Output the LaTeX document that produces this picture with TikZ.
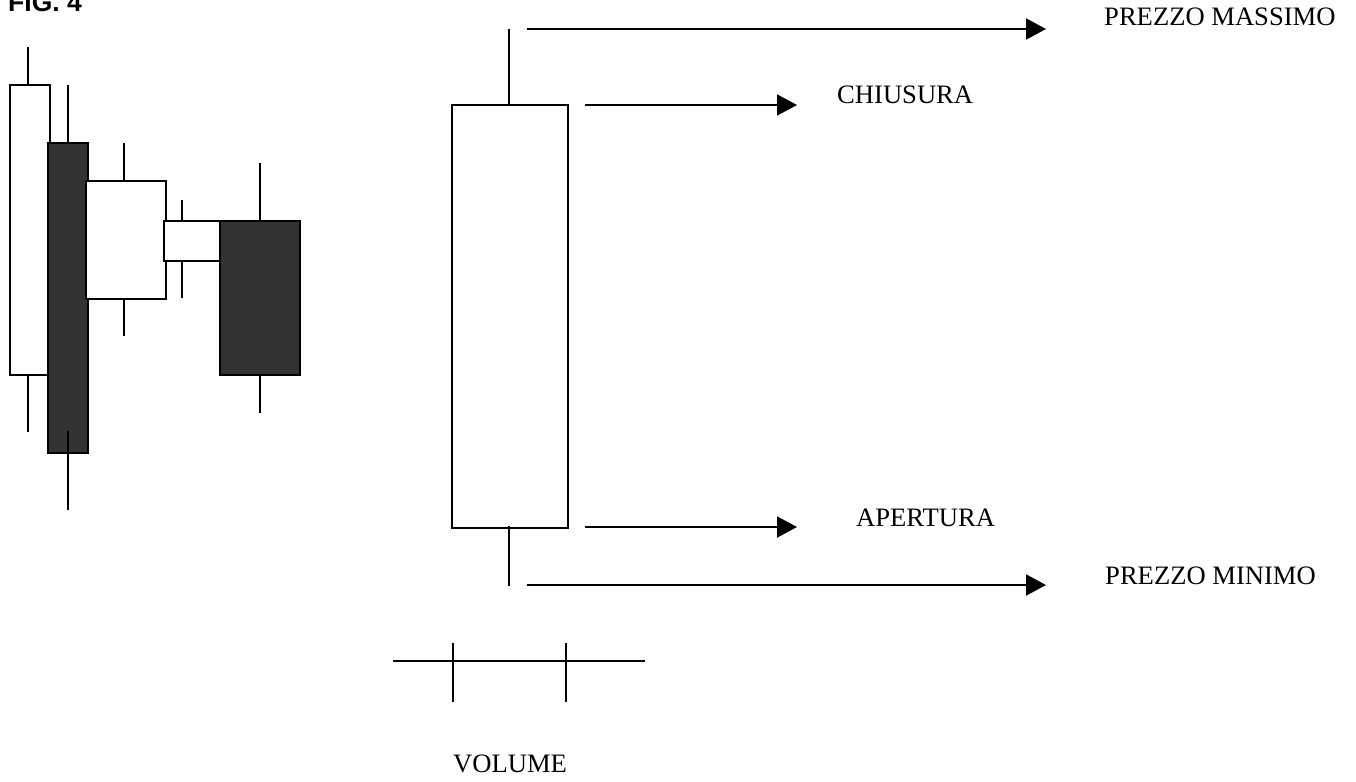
\documentclass[tikz,border=0pt]{standalone}
\usepackage{fontspec}
\setmainfont{Liberation Serif}
\newfontfamily\figfont{Liberation Sans}
\usetikzlibrary{arrows.meta}
\definecolor{darkbody}{RGB}{51,51,51}
\tikzset{
  ln/.style={line width=2pt, line cap=butt},
  upbody/.style={ln, fill=white},
  downbody/.style={ln, fill=darkbody},
  pointer/.style={ln, -{Triangle[length=20pt,width=21pt]}},
  lbl/.style={anchor=base west, inner sep=0pt, font=\fontsize{26.6}{30}\selectfont},
}
\begin{document}
\begin{tikzpicture}[x=1pt,y=-1pt]
\useasboundingbox (0,0) rectangle (1356,781);

% title
\node[anchor=base west, inner sep=0pt, font=\figfont\bfseries\fontsize{26.5}{30}\selectfont] (title) at (8,12) {FIG. 4};

% small candlestick series
% 1: white
\draw[ln] (28,47) -- (28,85);
\draw[ln] (28,375) -- (28,432);
\draw[upbody] (10,85) rectangle (50,375);
% 2: dark
\draw[ln] (68,85) -- (68,143);
\draw[downbody] (48,143) rectangle (88,453);
\draw[ln] (68,431) -- (68,510);
% 3: white
\draw[ln] (124,143) -- (124,181);
\draw[ln] (124,297) -- (124,336);
\draw[upbody] (86,181) rectangle (166,299);
% 4: white, small
\draw[ln] (182,200) -- (182,221);
\draw[ln] (182,259) -- (182,298);
\draw[upbody] (164,221) rectangle (220,261);
% 5: dark
\draw[ln] (260,163) -- (260,221);
\draw[ln] (260,375) -- (260,413);
\draw[downbody] (220,221) rectangle (300,375);

% large explained candlestick
\draw[ln] (509,29) -- (509,105);
\draw[ln] (509,526) -- (509,586);
\draw[ln] (452,105) rectangle (568,528);

% pointers
\coordinate (hiA) at (527,29);   \coordinate (hiB) at (1046,29);
\coordinate (clA) at (585,105);  \coordinate (clB) at (797,105);
\coordinate (opA) at (585,527);  \coordinate (opB) at (797,527);
\coordinate (loA) at (527,585);  \coordinate (loB) at (1046,585);
\draw[pointer] (hiA) -- (hiB);
\draw[pointer] (clA) -- (clB);
\draw[pointer] (opA) -- (opB);
\draw[pointer] (loA) -- (loB);

% labels
\node[lbl] (hi) at (1104,26)  {PREZZO MASSIMO};
\node[lbl] (cl) at (837,103)  {CHIUSURA};
\node[lbl] (op) at (856,526)  {APERTURA};
\node[lbl] (lo) at (1105,584) {PREZZO MINIMO};

% volume scale
\coordinate (vA) at (393,661);  \coordinate (vB) at (645,661);
\draw[ln] (vA) -- (vB);
\draw[ln] (453,643) -- (453,702);
\draw[ln] (566,643) -- (566,702);
\node[lbl] (vol) at (453,772) {VOLUME};
\end{tikzpicture}
\end{document}
